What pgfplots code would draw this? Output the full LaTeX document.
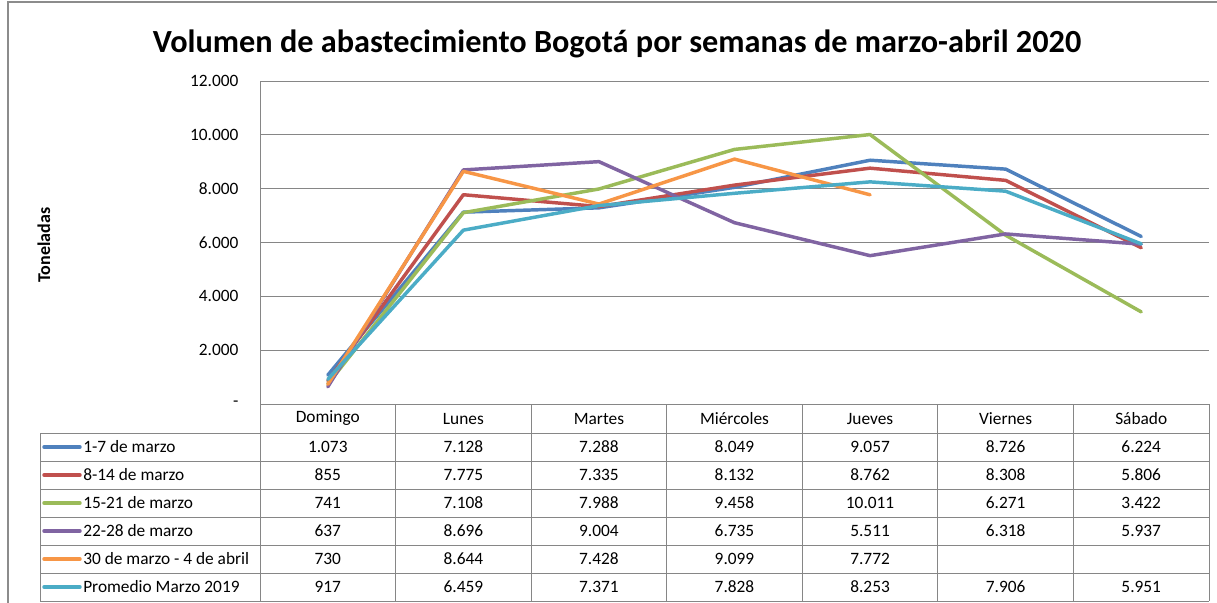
\documentclass[border=0pt]{standalone}
\usepackage{fontspec}
\setmainfont{Carlito}
\usepackage{pgfplots}
\pgfplotsset{compat=1.18}
\usepackage{pgfplotstable}

\definecolor{sBlue}{HTML}{4F81BD}
\definecolor{sRed}{HTML}{C0504D}
\definecolor{sGreen}{HTML}{9BBB59}
\definecolor{sPurple}{HTML}{8064A2}
\definecolor{sOrange}{HTML}{F79646}
\definecolor{sTeal}{HTML}{4BACC6}
\definecolor{gridgray}{HTML}{868686}

% days: 0 = Domingo ... 6 = Sabado
\pgfplotstableread{
x a b c d e f
0 1073 855 741 637 730 917
1 7128 7775 7108 8696 8644 6459
2 7288 7335 7988 9004 7428 7371
3 8049 8132 9458 6735 9099 7828
4 9057 8762 10011 5511 7772 8253
5 8726 8308 6271 6318 nan 7906
6 6224 5806 3422 5937 nan 5951
}\datatable

\begin{document}
\fontsize{13}{15}\selectfont
\begin{tikzpicture}
\begin{axis}[
    at={(195pt,-303pt)}, anchor=south west,
    scale only axis, width=711.75pt, height=242.25pt,
    xmin=-0.5, xmax=6.5, ymin=0, ymax=12000,
    axis line style={draw=none},
    xtick=\empty,
    scaled y ticks=false,
    ytick={0,2000,4000,6000,8000,10000,12000},
    yticklabels={-\hspace{6pt},2.000,4.000,6.000,8.000,10.000,12.000},
    ytick style={draw=none},
    yticklabel style={anchor=east, inner sep=0pt, xshift=-16pt, font=\fontsize{13}{15}\selectfont},
    ymajorgrids, grid style={gridgray, line width=0.75pt},
    every axis plot/.append style={line width=2.6pt, line join=round, line cap=round, mark=none},
]
\addplot[sBlue] table[x=x, y=a] {\datatable};
\addplot[sRed] table[x=x, y=b] {\datatable};
\addplot[sGreen] table[x=x, y=c] {\datatable};
\addplot[sPurple] table[x=x, y=d] {\datatable};
\addplot[sOrange] table[x=x, y=e] {\datatable};
\addplot[sTeal] table[x=x, y=f] {\datatable};
\end{axis}

\begin{scope}[x=0.75pt, y=-0.75pt]
% outer chart frame
\draw[gray!90, line width=1.2pt] (8,603) -- (8,2) -- (1217,2);
% title and y label
\node[font=\bfseries\fontsize{24.2}{28}\selectfont] at (617,44)
  {Volumen de abastecimiento Bogotá por semanas de marzo-abril 2020};
\node[font=\bfseries\fontsize{13.5}{15}\selectfont, rotate=90] at (44,245) {Toneladas};
% plot area left and bottom edge
\draw[gridgray, line width=0.75pt] (260,81) -- (260,404) -- (1209,404);
% data table grid
\foreach \k in {0,...,7}
  \draw[gridgray, line width=0.75pt] ({260+\k*135.571},404) -- ({260+\k*135.571},601);
\draw[gridgray, line width=0.75pt] (40,433) -- (40,601);
\foreach \j in {0,...,6}
  \draw[gridgray, line width=0.75pt] (40,{433+28*\j}) -- (1209,{433+28*\j});
% header
\foreach \n [count=\i from 0] in {Domingo,Lunes,Martes,Miércoles,Jueves,Viernes,Sábado}
  \node at ({260+(\i+0.5)*135.571},418.5) {\n};
% legend keys
\foreach \c/\t [count=\j from 0] in {sBlue/1-7 de marzo, sRed/8-14 de marzo, sGreen/15-21 de marzo,
    sPurple/22-28 de marzo, sOrange/30 de marzo - 4 de abril, sTeal/Promedio Marzo 2019} {
  \draw[\c, line width=2.6pt, line cap=round] (44,{447+28*\j}) -- (80,{447+28*\j});
  \node[anchor=west, inner sep=0pt] at (83,{447+28*\j}) {\t};
}
% table values
\foreach \vals [count=\j from 0] in {
    {1.073,7.128,7.288,8.049,9.057,8.726,6.224},
    {855,7.775,7.335,8.132,8.762,8.308,5.806},
    {741,7.108,7.988,9.458,10.011,6.271,3.422},
    {637,8.696,9.004,6.735,5.511,6.318,5.937},
    {730,8.644,7.428,9.099,7.772,{},{}},
    {917,6.459,7.371,7.828,8.253,7.906,5.951}} {
  \foreach \v [count=\i from 0] in \vals
    \node at ({260+(\i+0.5)*135.571},{447+28*\j}) {\v};
}
\end{scope}
\pgfresetboundingbox
\path[use as bounding box] (0,0) rectangle (912.75pt,-452.25pt);
\end{tikzpicture}
\end{document}
